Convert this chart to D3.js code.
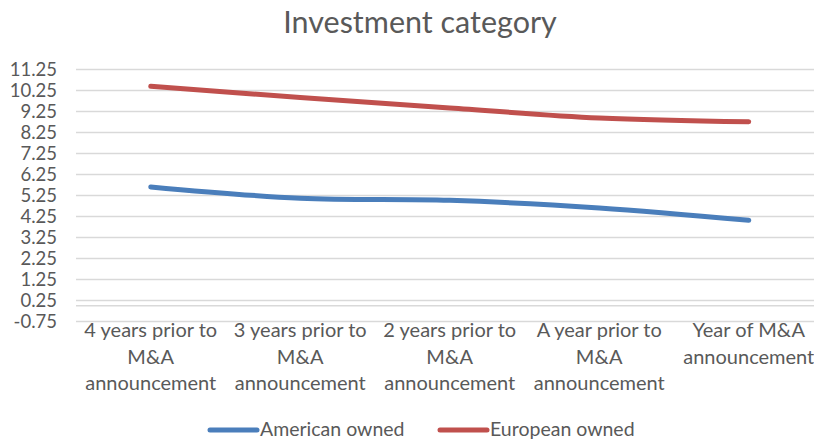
<!DOCTYPE html>
<html lang="en">
<head>
  <meta charset="utf-8">
  <title>Investment category</title>
  <script type="text/javascript" src="https://cdn.jsdelivr.net/npm/d3@7/dist/d3.min.js"></script>
  <style>
    body { margin: 0; background: #fff; }
    text { font-family: Lato, "Open Sans", sans-serif; fill: #595959; }
  </style>
</head>
<body>
  <script type="text/javascript">

  // data
  var categories = [
    ["4 years prior to", "M&A", "announcement"],
    ["3 years prior to", "M&A", "announcement"],
    ["2 years prior to", "M&A", "announcement"],
    ["A year prior to", "M&A", "announcement"],
    ["Year of M&A", "announcement"]
  ]
  var american = [5.66, 5.12, 5.02, 4.66, 4.07]
  var european = [10.45, 9.92, 9.42, 8.94, 8.76]
  var seriesNames = ["American owned", "European owned"]
  var yTicks = d3.range(-0.75, 11.26, 1)

  var width = 814
  var height = 441

  var svg = d3.select("body")
    .append("svg")
    .attr("width", width)
    .attr("height", height)

  var x = d3.scaleBand()
    .domain(d3.range(categories.length))
    .range([76, 823.5])

  var y = d3.scaleLinear()
    .domain([-0.75, 11.25])
    .range([321.5, 69.5])

  // title
  svg.append("text")
    .attr("x", 420)
    .attr("y", 33)
    .attr("text-anchor", "middle")
    .attr("font-size", "30.5px")
    .text("Investment category")

  // gridlines
  svg.append("g")
    .attr("stroke", "#d9d9d9")
    .attr("stroke-width", 1.5)
    .selectAll("line")
    .data(yTicks)
    .enter().append("line")
    .attr("x1", x.range()[0])
    .attr("x2", x.range()[1])
    .attr("y1", d => y(d))
    .attr("y2", d => y(d))

  // category axis crosses at 0
  svg.append("line")
    .attr("x1", x.range()[0])
    .attr("x2", x.range()[1])
    .attr("y1", y(0))
    .attr("y2", y(0))
    .attr("stroke", "#d9d9d9")
    .attr("stroke-width", 1.5)

  // y tick labels (plain hyphen for the negative one)
  svg.append("g")
    .selectAll("text")
    .data(yTicks)
    .enter().append("text")
    .attr("x", 57)
    .attr("y", d => y(d))
    .attr("dy", "0.35em")
    .attr("text-anchor", "end")
    .attr("font-size", "18.5px")
    .text(d => d.toFixed(2))

  // category labels (shown low, under the plot)
  var cat = svg.append("g")
    .selectAll("text")
    .data(categories)
    .enter().append("text")
    .attr("text-anchor", "middle")
    .attr("font-size", "20px")
    .attr("transform", (d, i) => `translate(${x(i) + x.bandwidth() / 2},337)`)

  cat.selectAll("tspan")
    .data(d => d)
    .enter().append("tspan")
    .attr("x", 0)
    .attr("y", (d, i) => i * 26.5)
    .text(d => d)

  var line = d3.line()
    .x((d, i) => x(i) + x.bandwidth() / 2)
    .y(d => y(d))
    .curve(d3.curveCatmullRom.alpha(0.5))

  var colors = ["#4a7ebb", "#c0504d"]

  svg.append("g")
    .selectAll("path")
    .data([american, european])
    .enter().append("path")
    .attr("d", d => line(d))
    .attr("fill", "none")
    .attr("stroke", (d, i) => colors[i])
    .attr("stroke-width", 5)
    .attr("stroke-linecap", "round")
    .attr("stroke-linejoin", "round")

  // legend
  var legendX = [210, 440]
  var legend = svg.append("g")
    .selectAll("g")
    .data(seriesNames)
    .enter().append("g")
    .attr("transform", (d, i) => `translate(${legendX[i]},430)`)

  legend.append("line")
    .attr("x1", 0)
    .attr("x2", 47)
    .attr("stroke", (d, i) => colors[i])
    .attr("stroke-width", 5)
    .attr("stroke-linecap", "round")

  legend.append("text")
    .attr("x", 50)
    .attr("dy", "0.3em")
    .attr("font-size", "19.5px")
    .text(d => d)

  </script>
</body>
</html>
